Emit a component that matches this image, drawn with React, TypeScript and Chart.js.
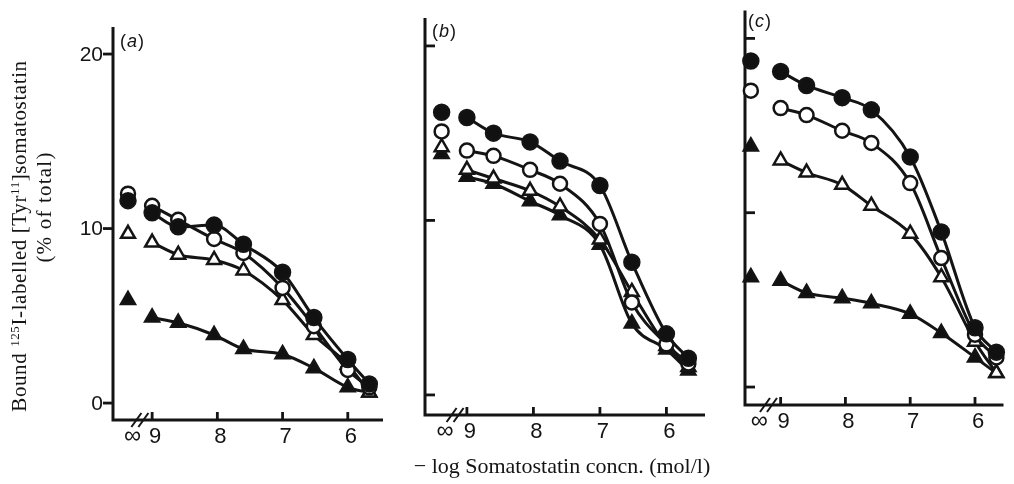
import React, { useEffect, useRef } from "react";
import { Chart, registerables } from "chart.js";

Chart.register(...registerables);

// ---------- data ----------
// -log concentration positions of the connected points (∞ point is separate)
const logConc = [9, 8.6, 8.05, 7.6, 7.0, 6.52, 6.0, 5.67];
const xTickValues = [9, 8, 7, 6];
const xTickLabels = ["9", "8", "7", "6"];
const yTickValues = [0, 10, 20];
const yTickLabels = ["0", "10", "20"];

// first value of each series = zero somatostatin (∞), rest follow logConc
const aFilledCircle = [11.6, 10.9, 10.1, 10.2, 9.1, 7.5, 4.9, 2.5, 1.1];
const aOpenCircle = [12.0, 11.3, 10.5, 9.4, 8.6, 6.6, 4.4, 1.9, 0.9];
const aOpenTriangle = [9.7, 9.2, 8.5, 8.2, 7.6, 5.9, 3.9, 2.2, 0.6];
const aFilledTriangle = [5.9, 4.9, 4.6, 3.9, 3.1, 2.8, 2.0, 0.9, 0.6];

const bFilledCircle = [16.2, 15.9, 15.0, 14.5, 13.4, 12.0, 7.6, 3.5, 2.1];
const bOpenCircle = [15.1, 14.0, 13.7, 12.9, 12.1, 9.8, 5.3, 2.9, 1.8];
const bOpenTriangle = [14.2, 12.9, 12.4, 11.7, 10.8, 8.9, 5.9, 2.8, 1.6];
const bFilledTriangle = [13.8, 12.5, 12.1, 11.1, 10.3, 8.6, 4.1, 2.6, 1.4];

const cFilledCircle = [18.7, 18.1, 17.3, 16.6, 15.9, 13.2, 8.9, 3.4, 2.0];
const cOpenCircle = [17.0, 16.0, 15.6, 14.7, 14.0, 11.7, 7.4, 3.0, 1.7];
const cOpenTriangle = [13.8, 13.0, 12.3, 11.6, 10.4, 8.8, 6.3, 2.6, 0.8];
const cFilledTriangle = [6.3, 6.1, 5.4, 5.1, 4.8, 4.2, 3.1, 1.7, 0.8];

// ---------- styles ----------
type Marker = "filledCircle" | "openCircle" | "openTriangle" | "filledTriangle";
const markerStyle: Record<Marker, any> = {
  filledCircle: { pointStyle: "circle", bg: "#111", radius: 7.5 },
  openCircle: { pointStyle: "circle", bg: "#fff", radius: 7 },
  openTriangle: { pointStyle: "triangle", bg: "#fff", radius: 8 },
  filledTriangle: { pointStyle: "triangle", bg: "#111", radius: 8 },
};

interface Panel {
  letter: string;
  series: { values: number[]; marker: Marker; infFilled?: boolean }[];
  area: { left: number; top: number; right: number; bottom: number };
  xMin: number;
  xMax: number;
  yMin: number;
  yMax: number;
  infX: number;
  infLabelX: number;
  breakX: number;
  yTickOut: boolean;
  showYLabels: boolean;
  labelPos: { x: number; y: number };
}

const W = 1014;
const H = 484;

const panels: Panel[] = [
  {
    letter: "a",
    series: [
      { values: aFilledCircle, marker: "filledCircle" },
      { values: aOpenCircle, marker: "openCircle" },
      { values: aOpenTriangle, marker: "openTriangle" },
      { values: aFilledTriangle, marker: "filledTriangle" },
    ],
    area: { left: 113, top: 27, right: 383, bottom: 420 },
    xMin: 5.46,
    xMax: 9.6,
    yMin: -0.97,
    yMax: 21.55,
    infX: 9.37,
    infLabelX: 9.3,
    breakX: 9.18,
    yTickOut: true,
    showYLabels: true,
    labelPos: { x: 120, y: 40 },
  },
  {
    letter: "b",
    series: [
      { values: bFilledCircle, marker: "filledCircle" },
      { values: bOpenCircle, marker: "openCircle" },
      { values: bOpenTriangle, marker: "openTriangle" },
      { values: bFilledTriangle, marker: "filledTriangle" },
    ],
    area: { left: 425, top: 18, right: 705, bottom: 415 },
    xMin: 5.42,
    xMax: 9.63,
    yMin: -1.15,
    yMax: 21.6,
    infX: 9.38,
    infLabelX: 9.33,
    breakX: 9.17,
    yTickOut: false,
    showYLabels: false,
    labelPos: { x: 432, y: 30 },
  },
  {
    letter: "c",
    series: [
      { values: cFilledCircle, marker: "filledCircle" },
      { values: cOpenCircle, marker: "openCircle" },
      { values: cOpenTriangle, marker: "openTriangle", infFilled: true },
      { values: cFilledTriangle, marker: "filledTriangle" },
    ],
    area: { left: 745, top: 10, right: 1012, bottom: 405 },
    xMin: 5.56,
    xMax: 9.55,
    yMin: -1.03,
    yMax: 21.6,
    infX: 9.46,
    infLabelX: 9.33,
    breakX: 9.18,
    yTickOut: false,
    showYLabels: false,
    labelPos: { x: 748, y: 20 },
  },
];

const INK = "#141414";

const axesPlugin = {
  id: "panelAxes",
  beforeDatasetsDraw(chart: any, _args: any, opts: any) {
    const p: Panel = opts.panel;
    if (!p) return;
    const ctx = chart.ctx as CanvasRenderingContext2D;
    const xs = chart.scales.x;
    const ys = chart.scales.y;
    const a = chart.chartArea;
    ctx.save();
    ctx.strokeStyle = INK;
    ctx.fillStyle = INK;
    ctx.lineWidth = 3;
    ctx.lineCap = "butt";
    ctx.beginPath();
    ctx.moveTo(a.left, a.top);
    ctx.lineTo(a.left, a.bottom);
    ctx.lineTo(a.right, a.bottom);
    ctx.stroke();

    // y ticks
    ctx.lineWidth = 2.8;
    yTickValues.forEach((v, i) => {
      const py = ys.getPixelForValue(v);
      ctx.beginPath();
      if (p.yTickOut) {
        ctx.moveTo(a.left - 10, py);
        ctx.lineTo(a.left, py);
      } else {
        ctx.moveTo(a.left, py);
        ctx.lineTo(a.left + 10, py);
      }
      ctx.stroke();
      if (p.showYLabels) {
        ctx.font = "21px 'Liberation Sans', Arial, sans-serif";
        ctx.textAlign = "right";
        ctx.textBaseline = "middle";
        ctx.fillText(yTickLabels[i], a.left - 10, py + 1);
      }
    });

    // x ticks (inward)
    xTickValues.forEach((v, i) => {
      const px = xs.getPixelForValue(v);
      ctx.beginPath();
      ctx.moveTo(px, a.bottom);
      ctx.lineTo(px, a.bottom - 8);
      ctx.stroke();
      ctx.font = "22px 'Liberation Sans', Arial, sans-serif";
      ctx.textAlign = "center";
      ctx.textBaseline = "top";
      ctx.fillText(xTickLabels[i], px + 3, a.bottom + 6);
    });
    // infinity label
    ctx.font = "24px 'Liberation Sans', Arial, sans-serif";
    ctx.textAlign = "center";
    ctx.textBaseline = "top";
    ctx.fillText("∞", xs.getPixelForValue(p.infLabelX), a.bottom + 4);

    // axis break marks
    const bx = xs.getPixelForValue(p.breakX);
    ctx.lineWidth = 2;
    [-4, 3].forEach((d) => {
      ctx.beginPath();
      ctx.moveTo(bx + d - 5, a.bottom + 7);
      ctx.lineTo(bx + d + 5, a.bottom - 7);
      ctx.stroke();
    });

    // panel label (a) with italic letter
    ctx.textAlign = "left";
    ctx.textBaseline = "top";
    ctx.font = "18px 'Liberation Sans', Arial, sans-serif";
    let x = p.labelPos.x;
    ctx.fillText("(", x, p.labelPos.y - 7);
    x += ctx.measureText("(").width + 1;
    ctx.font = "italic 18px 'Liberation Sans', Arial, sans-serif";
    ctx.fillText(p.letter, x, p.labelPos.y - 7);
    x += ctx.measureText(p.letter).width + 1;
    ctx.font = "18px 'Liberation Sans', Arial, sans-serif";
    ctx.fillText(")", x, p.labelPos.y - 7);
    ctx.restore();
  },
};

function buildDatasets(p: Panel) {
  const ds: any[] = [];
  p.series.forEach((s) => {
    const m = markerStyle[s.marker];
    ds.push({
      data: logConc.map((x, i) => ({ x, y: s.values[i + 1] })),
      borderColor: INK,
      borderWidth: 3,
      cubicInterpolationMode: "monotone",
      pointStyle: m.pointStyle,
      pointRadius: m.radius,
      pointBackgroundColor: m.bg,
      pointBorderColor: INK,
      pointBorderWidth: 2.5,
      showLine: true,
      fill: false,
      clip: false,
    });
    const infMarker = s.infFilled ? markerStyle.filledTriangle : m;
    ds.push({
      data: [{ x: p.infX, y: s.values[0] }],
      showLine: false,
      pointStyle: infMarker.pointStyle,
      pointRadius: infMarker.radius,
      pointBackgroundColor: infMarker.bg,
      pointBorderColor: INK,
      pointBorderWidth: 2.5,
      clip: false,
    });
  });
  return ds;
}

function PanelChart({ panel }: { panel: Panel }) {
  const ref = useRef<HTMLCanvasElement | null>(null);
  useEffect(() => {
    if (!ref.current) return;
    const chart = new Chart(ref.current, {
      type: "line",
      data: { datasets: buildDatasets(panel) },
      options: {
        animation: false,
        responsive: false,
        events: [],
        layout: {
          padding: {
            left: panel.area.left,
            top: panel.area.top,
            right: W - panel.area.right,
            bottom: H - panel.area.bottom,
          },
        },
        scales: {
          x: { type: "linear", reverse: true, min: panel.xMin, max: panel.xMax, display: false },
          y: { type: "linear", min: panel.yMin, max: panel.yMax, display: false },
        },
        plugins: {
          legend: { display: false },
          tooltip: { enabled: false },
          // @ts-ignore
          panelAxes: { panel },
        },
      } as any,
      plugins: [axesPlugin as any],
    });
    return () => chart.destroy();
  }, [panel]);
  return (
    <canvas
      ref={ref}
      width={W}
      height={H}
      style={{ position: "absolute", left: 0, top: 0, width: W, height: H }}
    />
  );
}

export default function App() {
  const serif = "'Liberation Serif', 'DejaVu Serif', serif";
  return (
    <div
      style={{
        position: "fixed",
        left: 0,
        top: 0,
        width: W,
        height: H,
        background: "#fff",
        overflow: "hidden",
        color: INK,
      }}
    >
      {panels.map((p) => (
        <PanelChart key={p.letter} panel={p} />
      ))}
      <div
        style={{
          position: "absolute",
          left: 19,
          top: 236,
          transform: "translate(-50%, -50%) rotate(-90deg)",
          whiteSpace: "nowrap",
          fontFamily: serif,
          fontSize: 21,
          lineHeight: 1,
          letterSpacing: 0.6,
        }}
      >
        Bound <sup style={{ fontSize: 13, verticalAlign: 7 }}>125</sup>I-labelled [Tyr
        <sup style={{ fontSize: 13, verticalAlign: 7 }}>11</sup>]somatostatin
      </div>
      <div
        style={{
          position: "absolute",
          left: 44,
          top: 207,
          transform: "translate(-50%, -50%) rotate(-90deg)",
          whiteSpace: "nowrap",
          fontFamily: serif,
          fontSize: 21,
          lineHeight: 1,
          letterSpacing: 1.2,
        }}
      >
        (% of total)
      </div>
      <div
        style={{
          position: "absolute",
          left: 562,
          top: 466,
          transform: "translate(-50%, -50%)",
          whiteSpace: "nowrap",
          fontFamily: serif,
          fontSize: 22,
          lineHeight: 1,
        }}
      >
        − log Somatostatin concn. (mol/l)
      </div>
    </div>
  );
}
